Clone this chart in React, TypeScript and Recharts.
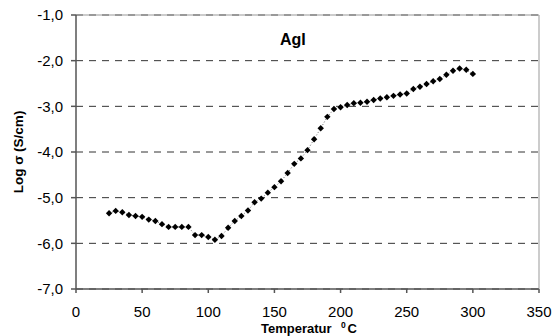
import React from 'react';
import { ScatterChart, Scatter, XAxis, YAxis, CartesianGrid, ReferenceLine } from 'recharts';

// Temperatur in °C
const temperatures = [
  25, 30, 35, 40, 45, 50, 55, 60, 65, 70, 75, 80, 85, 90, 95, 100, 105, 110, 115, 120,
  125, 130, 135, 140, 145, 150, 155, 160, 165, 170, 175, 180, 185, 190, 195, 200,
  205, 210, 215, 220, 225, 230, 235, 240, 245, 250, 255, 260, 265, 270, 275, 280,
  285, 290, 295, 300,
];

// Log sigma (S/cm)
const logSigma = [
  -5.34, -5.29, -5.32, -5.38, -5.4, -5.42, -5.48, -5.51, -5.58, -5.64, -5.64, -5.64,
  -5.64, -5.82, -5.82, -5.86, -5.92, -5.84, -5.66, -5.51, -5.4, -5.28, -5.1, -5.02,
  -4.89, -4.77, -4.64, -4.46, -4.26, -4.14, -3.96, -3.72, -3.48, -3.23, -3.06, -3.02,
  -2.97, -2.93, -2.92, -2.9, -2.86, -2.83, -2.8, -2.77, -2.74, -2.72, -2.62, -2.57,
  -2.51, -2.45, -2.4, -2.31, -2.22, -2.17, -2.2, -2.29,
];

const xTicks = [0, 50, 100, 150, 200, 250, 300, 350];
const yTicks = [-7, -6, -5, -4, -3, -2, -1];

const data = temperatures.map((t, i) => ({ t, v: logSigma[i] }));

const FONT = '"Liberation Sans", Arial, sans-serif';
const AXIS = '#555';

const Diamond = (props: any) => {
  const { cx, cy } = props;
  const r = 3.2;
  return (
    <polygon
      points={`${cx},${cy - r} ${cx + r},${cy} ${cx},${cy + r} ${cx - r},${cy}`}
      fill="#000"
    />
  );
};

const XTitle = () => (
  <g fontFamily={FONT} fontWeight="bold" fill="#000">
    <text x={261} y={333} fontSize={13}>Temperatur</text>
    <text x={341} y={328} fontSize={8.5}>0</text>
    <text x={347.5} y={333} fontSize={13}>C</text>
  </g>
);

const YTitle = (props: any) => {
  const vb = props.viewBox || {};
  const cy = vb.y + vb.height / 2;
  return (
    <text
      x={18}
      y={cy}
      transform={`rotate(-90, 18, ${cy})`}
      textAnchor="middle"
      dominantBaseline="central"
      fontFamily={FONT}
      fontSize={13.5}
      fontWeight="bold"
      fill="#000"
    >
      Log σ (S/cm)
    </text>
  );
};

export default function App() {
  return (
    <div style={{ position: 'absolute', left: 0, top: 0, width: 553, height: 336, background: '#fff' }}>
      <ScatterChart width={553} height={336} margin={{ top: 15, right: 14, left: 0, bottom: 0 }}>
        <CartesianGrid horizontal vertical={false} stroke="#333" strokeDasharray="7 6" />
        <ReferenceLine y={-1} stroke="#999" strokeWidth={1} />
        <ReferenceLine x={350} stroke="#999" strokeWidth={1} />
        <XAxis
          type="number"
          dataKey="t"
          domain={[0, 350]}
          ticks={xTicks}
          interval={0}
          height={47}
          tickSize={4}
          tickMargin={13}
          stroke={AXIS}
          strokeWidth={1.5}
          tick={{ fill: '#000', fontSize: 15, fontFamily: FONT }}
          label={<XTitle />}
        />
        <YAxis
          type="number"
          dataKey="v"
          domain={[-7, -1]}
          ticks={yTicks}
          interval={0}
          width={76}
          tickSize={5}
          tickMargin={8}
          stroke={AXIS}
          strokeWidth={1.5}
          tick={{ fill: '#000', fontSize: 15, fontFamily: FONT }}
          tickFormatter={(v: number) => v.toFixed(1).replace('.', ',')}
          label={<YTitle />}
        />
        <Scatter
          data={data}
          isAnimationActive={false}
          shape={<Diamond />}
          line={{ stroke: '#444', strokeWidth: 0.8, strokeDasharray: '1 2' }}
          lineType="joint"
        />
      </ScatterChart>
      <svg width={553} height={336} style={{ position: 'absolute', left: 0, top: 0, pointerEvents: 'none' }}>
        <text x={280} y={45} fontFamily={FONT} fontSize={16} fontWeight="bold" fill="#000">
          AgI
        </text>
      </svg>
    </div>
  );
}
